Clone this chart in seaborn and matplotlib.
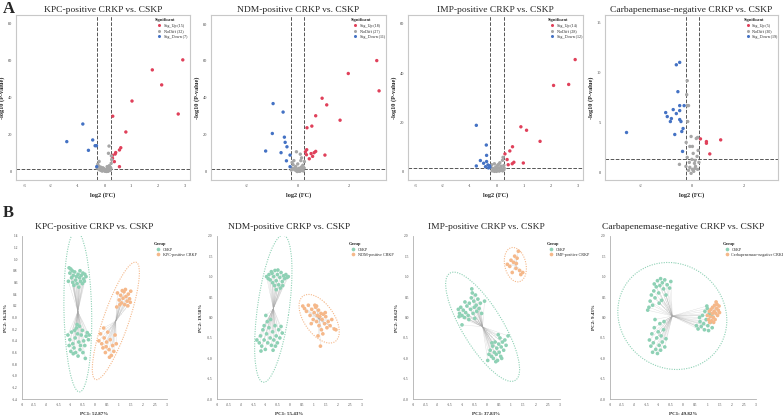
import matplotlib
matplotlib.use('Agg')
import matplotlib.pyplot as plt
import numpy as np
import pandas as pd
import seaborn as sns
from matplotlib.collections import LineCollection
from matplotlib.patches import Ellipse

# ---------------- volcano data (A) ----------------
titles = ['KPC-positive CRKP vs. CSKP', 'NDM-positive CRKP vs. CSKP',
          'IMP-positive CRKP vs. CSKP', 'Carbapenemase-negative CRKP vs. CSKP']

kpc_up_x = [2.93, 1.79, 2.14, 1.03, 2.76, 0.31, 0.80, 0.61, 0.56, 0.42, 0.40, 0.30, 0.30, 0.37, 0.56]
kpc_up_y = [60.3, 54.9, 46.8, 38.1, 31.1, 29.9, 21.4, 12.9, 11.7, 10.3, 9.5, 8.8, 7.2, 5.4, 2.7]
kpc_down_x = [-0.81, -1.41, -0.44, -0.35, -0.30, -0.60, -0.29]
kpc_down_y = [25.7, 16.2, 17.1, 14.0, 14.0, 11.5, 2.7]
kpc_nd_x = [0.17, 0.15, 0.27, 0.25, -0.25, -0.22, -0.15, -0.10, -0.05, 0.00, 0.05, 0.10, 0.15, 0.20,
            -0.18, -0.08, 0.02, 0.08, 0.12, -0.12, 0.22, -0.27, 0.18, -0.20, 0.10, -0.02, 0.06, 0.24,
            -0.06, 0.14, -0.14, 0.26]
kpc_nd_y = [13.8, 9.9, 6.5, 4.5, 4.0, 3.0, 2.5, 1.8, 1.2, 0.8, 0.5, 0.9, 1.5, 2.2,
            1.0, 0.3, 0.2, 0.1, 0.4, 0.6, 0.7, 1.9, 3.2, 5.5, 2.7, 1.6, 1.1, 1.8,
            2.1, 0.2, 1.4, 8.5]

ndm_up_x = [3.08, 1.97, 3.17, 0.95, 1.13, 0.70, 1.65, 0.55, 0.36, 0.35, 0.70, 0.64, 0.34, 1.06,
            0.58, 0.45, 0.30, 0.52]
ndm_up_y = [60.2, 53.2, 43.8, 39.8, 36.2, 30.3, 27.9, 24.7, 23.8, 11.9, 11.0, 10.3, 9.2, 9.0,
            8.3, 7.0, 10.8, 9.8]
ndm_down_x = [-0.96, -0.57, -0.99, -0.52, -0.49, -0.42, -1.25, -0.65, -0.30, -0.44, -0.30]
ndm_down_y = [36.9, 32.3, 20.7, 18.7, 15.9, 13.5, 11.2, 10.3, 9.0, 5.9, 2.7]
ndm_nd_x = [-0.05, 0.10, 0.15, 0.12, -0.15, -0.22, -0.18, 0.20, 0.25, -0.10, 0.00, 0.05, -0.05, 0.08,
            -0.12, 0.18, -0.20, 0.02, 0.12, -0.08, 0.22, -0.25, 0.15, 0.00, -0.02, 0.26, 0.06]
ndm_nd_y = [10.8, 9.5, 7.5, 6.0, 6.0, 5.0, 3.8, 3.5, 2.0, 2.2, 1.5, 0.8, 0.5, 0.2,
            1.0, 1.2, 1.8, 0.3, 0.6, 2.8, 0.4, 0.9, 2.6, 4.2, 0.1, 5.5, 1.9]

imp_up_x = [2.89, 2.65, 2.09, 0.88, 1.09, 1.59, 0.57, 0.47, 0.29, 0.37, 0.62, 0.56, 0.97, 0.41]
imp_up_y = [45.5, 35.4, 35.0, 18.2, 16.8, 12.3, 10.1, 8.4, 7.2, 4.9, 3.8, 3.2, 3.5, 2.8]
imp_down_x = [-0.77, -0.40, -0.39, -0.62, -0.50, -0.39, -0.77, -0.34, -0.27, -0.43, -0.32, -0.28]
imp_down_y = [18.8, 10.8, 6.6, 4.5, 3.4, 4.1, 2.3, 2.7, 1.8, 2.0, 1.5, 2.4]
imp_nd_x = [0.22, 0.20, 0.10, -0.10, -0.20, 0.25, 0.15, -0.05, 0.05, -0.15, 0.00, 0.12, -0.08, 0.18,
            -0.22, 0.08, -0.02, 0.25, -0.12, 0.02, -0.18, 0.14, 0.26, -0.25, 0.06, -0.06, 0.20, -0.10]
imp_nd_y = [5.8, 4.6, 3.6, 3.2, 2.8, 2.5, 2.2, 1.9, 1.5, 1.3, 0.9, 0.6, 0.4, 1.0,
            1.6, 0.2, 0.1, 0.8, 0.7, 2.6, 0.3, 1.8, 1.4, 2.1, 3.0, 1.1, 0.3, 0.1]

neg_up_x = [0.31, 1.09, 0.54, 0.54, 0.67]
neg_up_y = [3.36, 3.26, 3.09, 2.92, 1.85]
neg_down_x = [-0.49, -0.62, -0.56, -0.32, -0.49, -0.74, -1.03, -0.49, -0.62, -0.97, -0.81, -0.85,
              -0.49, -0.44, -0.36, -0.41, -0.68, -2.54, -0.38]
neg_down_y = [11.04, 10.8, 8.1, 6.7, 6.7, 6.3, 6.0, 6.2, 5.9, 5.6, 5.4, 5.1,
              5.3, 5.1, 4.4, 4.1, 3.8, 4.0, 2.1]
neg_nd_x = [-0.20, -0.22, -0.20, -0.15, -0.18, -0.05, 0.20, 0.15, -0.10, 0.03, -0.20, 0.10, 0.25, -0.50,
            -0.25, -0.10, 0.00, 0.05, 0.12, -0.05, 0.20, -0.15, 0.08, -0.02, 0.18, -0.12, 0.22, 0.00,
            -0.24, 0.10]
neg_nd_y = [9.2, 7.8, 6.7, 6.7, 5.1, 3.6, 3.5, 3.4, 2.6, 1.9, 1.5, 1.2, 1.0, 0.8,
            0.6, 0.5, 0.3, 0.1, 0.6, -0.1, 0.3, 0.2, 0.9, 1.3, 1.6, 1.0, 2.2, 2.6,
            3.0, 0.4]

volcano_sets = [
    (kpc_up_x, kpc_up_y, kpc_nd_x, kpc_nd_y, kpc_down_x, kpc_down_y),
    (ndm_up_x, ndm_up_y, ndm_nd_x, ndm_nd_y, ndm_down_x, ndm_down_y),
    (imp_up_x, imp_up_y, imp_nd_x, imp_nd_y, imp_down_x, imp_down_y),
    (neg_up_x, neg_up_y, neg_nd_x, neg_nd_y, neg_down_x, neg_down_y),
]
volcano_xlim = [(-3.31, 3.2), (-3.38, 3.44), (-3.3, 3.18), (-3.37, 3.3)]
volcano_ylim = [(-4.5, 84.5), (-4.5, 84.9), (-3.4, 63.6), (-0.77, 15.8)]
volcano_xticks = [[-3, -2, -1, 0, 1, 2, 3], [-2, 0, 2], [-3, -2, -1, 0, 1, 2, 3], [-2, 0, 2]]
volcano_yticks = [[0, 20, 40, 60, 80], [0, 20, 40, 60, 80], [0, 20, 40, 60], [0, 5, 10, 15]]

# ---------------- PCA data (B) ----------------
pc_labels = [('PC1: 52.87%', 'PC2: 16.26%'), ('PC1: 55.43%', 'PC2: 19.58%'),
             ('PC1: 37.83%', 'PC2: 28.62%'), ('PC1: 49.82%', 'PC2: 9.43%')]
crkp_names = ['KPC-positive CRKP', 'NDM-positive CRKP', 'IMP-positive CRKP',
              'Carbapenemase-negative CRKP']

kpc_cskp = [(-1.05, 0.85), (-0.98, 0.83), (-0.92, 0.80), (-1.02, 0.76), (-0.88, 0.72), (-0.95, 0.68),
            (-1.08, 0.62), (-0.82, 0.78), (-0.75, 0.70), (-0.68, 0.74), (-0.62, 0.68), (-0.55, 0.72),
            (-0.48, 0.76), (-0.40, 0.74), (-0.35, 0.70), (-0.58, 0.62), (-0.72, 0.58), (-0.85, 0.55),
            (-0.65, 0.52), (-0.50, 0.58), (-0.42, 0.62), (-0.78, 0.64), (-0.60, 0.80), (-0.45, 0.66),
            (-0.90, 0.60),
            (-1.10, -0.30), (-1.02, -0.38), (-0.95, -0.25), (-0.90, -0.45), (-0.85, -0.52), (-0.80, -0.35),
            (-0.75, -0.18), (-0.70, -0.28), (-0.65, -0.42), (-0.60, -0.55), (-0.55, -0.30), (-0.50, -0.22),
            (-0.45, -0.40), (-0.40, -0.48), (-0.35, -0.32), (-0.30, -0.26), (-0.25, -0.38), (-0.22, -0.30),
            (-1.05, -0.48), (-0.98, -0.58), (-0.88, -0.62), (-0.78, -0.60), (-0.68, -0.66), (-0.58, -0.48),
            (-0.48, -0.60), (-0.72, -0.12), (-0.62, -0.15), (-0.82, -0.22), (-0.38, -0.70)]
kpc_crkp = [(0.95, 0.42), (1.02, 0.30), (1.08, 0.38), (1.12, 0.25), (1.18, 0.33), (1.22, 0.44),
            (1.25, 0.22), (1.30, 0.36), (1.35, 0.28), (1.40, 0.40), (1.45, 0.32), (1.50, 0.45),
            (1.15, 0.46), (1.28, 0.48), (1.38, 0.20), (1.05, 0.22), (1.48, 0.26), (0.92, 0.18),
            (0.18, -0.40), (0.25, -0.28), (0.30, -0.45), (0.35, -0.52), (0.40, -0.35), (0.45, -0.60),
            (0.50, -0.42), (0.55, -0.25), (0.60, -0.55), (0.65, -0.38), (0.70, -0.65), (0.75, -0.48),
            (0.80, -0.58), (0.85, -0.30), (0.90, -0.45), (0.38, -0.18), (0.62, -0.68), (0.48, -0.50)]

ndm_cskp = [(-0.95, 1.00), (-0.85, 1.05), (-0.80, 0.92), (-0.75, 1.12), (-0.70, 0.85), (-0.65, 1.00),
            (-0.60, 1.15), (-0.55, 0.90), (-0.50, 1.05), (-0.45, 0.80), (-0.40, 0.98), (-0.35, 1.10),
            (-0.30, 0.88), (-0.25, 1.02), (-0.20, 0.95), (-0.10, 0.98), (-0.05, 1.00), (-0.62, 0.78),
            (-0.72, 1.08), (-0.48, 1.16), (-0.38, 0.72), (-0.88, 0.95), (-0.55, 0.68), (-0.28, 0.78),
            (-0.15, 1.05),
            (-1.35, -0.55), (-1.25, -0.62), (-1.20, -0.45), (-1.15, -0.70), (-1.10, -0.30), (-1.05, -0.55),
            (-1.00, -0.78), (-0.95, -0.40), (-0.90, -0.62), (-0.85, -0.25), (-0.80, -0.50), (-0.75, -0.68),
            (-0.70, -0.35), (-0.65, -0.55), (-0.60, -0.20), (-0.55, -0.45), (-0.50, -0.62), (-0.45, -0.30),
            (-0.40, -0.50), (-0.35, -0.22), (-0.30, -0.38), (-1.05, -0.20), (-0.92, -0.10), (-0.78, -0.05),
            (-1.18, -0.82), (-0.68, -0.80), (-0.98, 0.05), (-0.58, -0.70)]
ndm_crkp = [(0.55, 0.28), (0.62, 0.22), (0.70, 0.15), (0.78, 0.30), (0.85, 0.05), (0.92, 0.20),
            (0.98, -0.05), (1.02, 0.12), (1.08, 0.25), (1.12, -0.10), (1.15, 0.05), (1.20, 0.18),
            (1.22, -0.20), (1.25, 0.02), (1.30, 0.10), (1.32, -0.30), (1.35, -0.05), (1.40, 0.08),
            (1.45, -0.15), (1.50, 0.02), (1.55, -0.25), (1.60, -0.10), (1.68, -0.20), (1.75, -0.05),
            (1.85, -0.28), (1.92, -0.30), (1.28, -0.70), (1.18, -0.45), (1.05, 0.30), (1.38, -0.40),
            (0.90, -0.15), (1.12, 0.28), (1.48, 0.12)]

imp_cskp = [(-1.15, 0.20), (-1.10, 0.10), (-1.05, 0.25), (-1.00, 0.05), (-0.95, 0.18), (-0.90, 0.00),
            (-0.85, 0.12), (-0.80, 0.28), (-0.75, 0.05), (-0.70, 0.35), (-0.65, 0.20), (-0.62, 0.48),
            (-0.58, 0.60), (-0.55, 0.10), (-0.52, 0.40), (-0.50, 0.25), (-0.45, 0.55), (-0.42, 0.30),
            (-0.40, 0.15), (-0.35, 0.45), (-0.30, 0.22), (-0.25, 0.35), (-0.20, 0.10), (-0.60, 0.70),
            (-0.08, 0.40), (-1.00, -0.18), (-0.88, 0.38), (-0.72, -0.05), (-0.48, -0.02), (-1.12, 0.02),
            (0.10, -0.90), (0.15, -0.80), (0.20, -0.95), (0.25, -0.70), (0.28, -1.00), (0.32, -0.85),
            (0.35, -0.60), (0.40, -0.90), (0.42, -0.75), (0.45, -1.05), (0.50, -0.65), (0.52, -0.85),
            (0.55, -0.50), (0.58, -0.95), (0.60, -0.72), (0.65, -0.60), (0.70, -0.80), (0.75, -0.55),
            (0.80, -0.68), (0.88, -0.45), (0.48, -0.42), (0.38, -1.08), (0.22, -0.62), (0.62, -1.00),
            (0.05, -1.05)]
imp_crkp = [(0.85, 1.30), (0.95, 1.25), (1.00, 1.40), (1.05, 1.10), (1.10, 1.35), (1.15, 1.50),
            (1.20, 1.20), (1.25, 1.45), (1.30, 1.62), (1.35, 1.15), (1.40, 1.05), (1.48, 1.10),
            (1.22, 1.32)]

neg_cskp = [(-1.40, 0.25), (-1.35, 0.40), (-1.30, 0.55), (-1.25, 0.30), (-1.20, 0.65), (-1.15, 0.48),
            (-1.10, 0.75), (-1.05, 0.90), (-1.00, 0.60), (-0.95, 0.78), (-0.92, 0.95), (-0.88, 0.42),
            (-0.85, 0.85), (-0.80, 0.70), (-0.75, 0.92), (-0.70, 0.55), (-0.65, 0.80), (-0.55, 0.72),
            (-0.50, 0.88), (-1.45, 0.18), (-1.18, 0.82), (-0.98, 0.35),
            (-1.38, -0.55), (-1.32, -0.70), (-1.28, -0.40), (-1.22, -0.62), (-1.18, -0.25), (-1.12, -0.78),
            (-1.08, -0.50), (-1.02, -0.35), (-0.98, -0.68), (-0.95, -0.15), (-0.90, -0.45), (-0.85, -0.60),
            (-0.80, -0.30), (-0.75, -0.72), (-0.70, -0.52), (-1.25, -0.85), (-1.05, -0.88), (-0.92, -0.80),
            (-0.78, -0.10), (-1.15, -0.05),
            (0.55, -0.20), (0.62, -0.28), (0.70, -0.10), (0.75, -0.22), (0.80, 0.05), (0.85, -0.15),
            (0.90, 0.15), (0.95, -0.05), (1.00, 0.22), (1.02, -0.20), (1.08, 0.10), (1.12, -0.12),
            (1.15, 0.05), (1.20, -0.25), (0.88, -0.30), (0.98, 0.28), (0.68, 0.00), (1.05, -0.32)]
neg_crkp = [(1.00, 0.05), (1.05, -0.05), (1.08, 0.15), (1.12, 0.02), (1.15, 0.20), (1.18, -0.08),
            (1.20, 0.10), (1.22, 0.25), (1.25, 0.00), (1.28, 0.15), (1.30, 0.30), (1.32, -0.05),
            (1.35, 0.10), (1.38, 0.22), (1.40, 0.32), (1.42, 0.05), (1.45, 0.18), (1.48, 0.28),
            (1.50, 0.12), (1.10, -0.12), (1.26, -0.12), (1.36, 0.38)]

pca_sets = [(kpc_cskp, kpc_crkp), (ndm_cskp, ndm_crkp), (imp_cskp, imp_crkp), (neg_cskp, neg_crkp)]
pca_ylim = [(-1.4, 1.4), (-2.0, 2.0), (-2.0, 2.0), (-2.0, 2.0)]
pca_yticks = [np.round(np.arange(-1.4, 1.41, 0.2), 1), np.arange(-2.0, 2.01, 0.5),
              np.arange(-2.0, 2.01, 0.5), np.arange(-2.0, 2.01, 0.5)]
pca_xticks = np.arange(-3, 3.01, 0.5)
crkp_ellipse = [True, True, True, False]
pca_legend_x = [0.9, 0.9, 0.9, 0.76]

RED, GREY, BLUE = '#E0405A', '#A6A6A6', '#4472C4'
GREEN, ORANGE = '#8ED1B5', '#F5B88A'

sns.set_style('white')
plt.rcParams['font.family'] = ['Liberation Serif', 'DejaVu Serif']
plt.rcParams['axes.unicode_minus'] = False

fig = plt.figure(figsize=(7.83, 4.16), dpi=100)
W, H = 783, 416


def px_axes(l, r, t, b):
    return fig.add_axes([l / W, 1 - b / H, (r - l) / W, (b - t) / H])


# ---- row A: volcano plots ----
vol_pos = [(16, 190), (211, 386), (408, 583), (605, 778)]
for i, (l, r) in enumerate(vol_pos):
    ax = px_axes(l, r, 15, 180)
    ux, uy, nx, ny, dx, dy = volcano_sets[i]
    lab_up = f'Sig_Up ({len(ux)})'
    lab_nd = f'NoDiff ({len(nx)})'
    lab_dn = f'Sig_Down ({len(dx)})'
    df = pd.DataFrame({
        'log2FC': ux + nx + dx,
        'logp': uy + ny + dy,
        'Significant': [lab_up] * len(ux) + [lab_nd] * len(nx) + [lab_dn] * len(dx),
    })
    ax.axvline(-0.263, color='#555555', ls='--', lw=0.7, zorder=1)
    ax.axvline(0.263, color='#555555', ls='--', lw=0.7, zorder=1)
    ax.axhline(1.301, color='#555555', ls='--', lw=0.7, zorder=1)
    sns.scatterplot(data=df, x='log2FC', y='logp', hue='Significant',
                    hue_order=[lab_up, lab_nd, lab_dn],
                    palette=[RED, GREY, BLUE], s=6, linewidth=0, ax=ax, zorder=3)
    ax.set_xlim(volcano_xlim[i])
    ax.set_ylim(volcano_ylim[i])
    ax.set_xticks(volcano_xticks[i])
    ax.set_yticks(volcano_yticks[i])
    ax.tick_params(labelsize=3.2, length=1.5, width=0.4, pad=1.5, colors='#444444')
    for sp in ax.spines.values():
        sp.set_color('#C8C8C8')
        sp.set_linewidth(0.8)
    ax.set_xlabel('log2 (FC)', fontsize=4.5, fontweight='bold', labelpad=3)
    ax.set_ylabel('-log10 (P-value)', fontsize=4.5, fontweight='bold', labelpad=1.5)
    ax.set_title(titles[i], fontsize=6.8, pad=2)
    sns.move_legend(ax, 'upper left', bbox_to_anchor=(0.79, 0.99), frameon=False,
                    title='Significant', fontsize=3, title_fontsize=3.2,
                    handletextpad=0.1, labelspacing=0.35, borderaxespad=0, markerscale=0.9)
    ax.get_legend().get_title().set_fontweight('bold')
    ax.get_legend()._legend_box.align = 'left'


def conf_ellipse(ax, pts, color):
    pts = np.asarray(pts)
    cov = np.cov(pts[:, 0], pts[:, 1])
    vals, vecs = np.linalg.eigh(cov)
    order = vals.argsort()[::-1]
    vals, vecs = vals[order], vecs[:, order]
    angle = np.degrees(np.arctan2(vecs[1, 0], vecs[0, 0]))
    k = np.sqrt(5.991)
    e = Ellipse(pts.mean(axis=0), 2 * k * np.sqrt(vals[0]), 2 * k * np.sqrt(vals[1]),
                angle=angle, fill=False, ec=color, ls=(0, (1, 1.2)), lw=0.8, zorder=1)
    ax.add_patch(e)


def spider(ax, pts):
    pts = np.asarray(pts)
    c = pts.mean(axis=0)
    segs = [[c, p] for p in pts]
    ax.add_collection(LineCollection(segs, colors='#A8A8A8', linestyles=(0, (1, 1.5)),
                                     linewidths=0.3, zorder=2))


# ---- row B: PCA plots ----
pca_pos = [(22, 167), (217, 362), (413, 560), (610, 756)]
for i, (l, r) in enumerate(pca_pos):
    ax = px_axes(l, r, 235.7, 399.3)
    cskp, crkp = pca_sets[i]
    name = crkp_names[i]
    df = pd.DataFrame({
        'PC1': [p[0] for p in cskp] + [p[0] for p in crkp],
        'PC2': [p[1] for p in cskp] + [p[1] for p in crkp],
        'Group': ['CSKP'] * len(cskp) + [name] * len(crkp),
    })
    spider(ax, cskp)
    spider(ax, crkp)
    conf_ellipse(ax, cskp, GREEN)
    if crkp_ellipse[i]:
        conf_ellipse(ax, crkp, ORANGE)
    sns.scatterplot(data=df, x='PC1', y='PC2', hue='Group', hue_order=['CSKP', name],
                    palette=[GREEN, ORANGE], s=7, linewidth=0, ax=ax, zorder=3)
    ax.set_xlim(-3, 3)
    ax.set_ylim(pca_ylim[i])
    ax.set_xticks(pca_xticks)
    ax.set_yticks(pca_yticks[i])
    ax.set_xticklabels([f'{v:g}' for v in pca_xticks])
    ax.set_yticklabels([f'{v:.1f}' for v in pca_yticks[i]])
    ax.tick_params(labelsize=2.6, length=1.5, width=0.4, pad=1.5, colors='#444444')
    for side in ['top', 'right']:
        ax.spines[side].set_visible(False)
    for side in ['left', 'bottom']:
        ax.spines[side].set_color('#B0B0B0')
        ax.spines[side].set_linewidth(0.6)
    ax.set_xlabel(pc_labels[i][0], fontsize=3.6, fontweight='bold', labelpad=3)
    ax.set_ylabel(pc_labels[i][1], fontsize=3.6, fontweight='bold', labelpad=3)
    ax.set_title(titles[i], fontsize=6.8, pad=5)
    sns.move_legend(ax, 'upper left', bbox_to_anchor=(pca_legend_x[i], 0.97), frameon=False,
                    title='Group', fontsize=3, title_fontsize=3.2,
                    handletextpad=0.1, labelspacing=0.3, borderaxespad=0)
    ax.get_legend().get_title().set_fontweight('bold')
    ax.get_legend()._legend_box.align = 'left'

fig.text(0.003, 0.997, 'A', fontsize=12, fontweight='bold', va='top', ha='left')
fig.text(0.003, 1 - 205 / H, 'B', fontsize=12, fontweight='bold', va='top', ha='left')

fig.savefig('out.png', dpi=100)
